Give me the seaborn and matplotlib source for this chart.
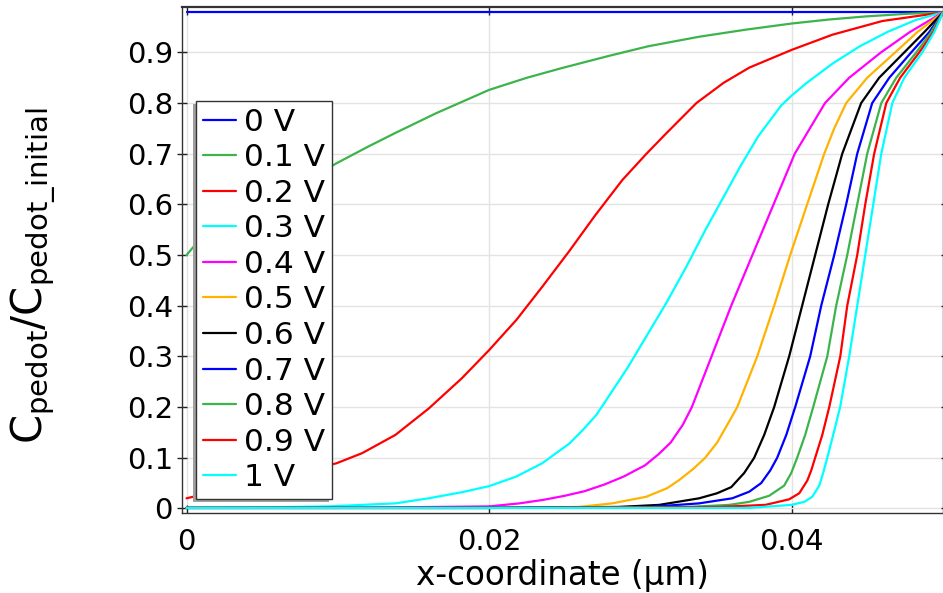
import numpy as np
import pandas as pd
import seaborn as sns
import matplotlib
matplotlib.use("Agg")
import matplotlib.pyplot as plt
from matplotlib.patches import Rectangle
from matplotlib.lines import Line2D
from matplotlib.transforms import IdentityTransform

# ---------------- data ----------------
labels = ["0 V", "0.1 V", "0.2 V", "0.3 V", "0.4 V", "0.5 V",
          "0.6 V", "0.7 V", "0.8 V", "0.9 V", "1 V"]
colors = ["#0000ff", "#3cb44b", "#ff0000", "#00ffff", "#ff00ff", "#ffb300",
          "#000000", "#0000ff", "#3cb44b", "#ff0000", "#00ffff"]

x_0V = [0.0, 0.05]
y_0V = [0.979, 0.979]

x_01V = [0.0, 0.00056, 0.0099, 0.0120, 0.0138, 0.0165, 0.0200, 0.0225, 0.0248, 0.0279, 0.0305, 0.0339, 0.0370, 0.0400, 0.0425, 0.0449, 0.0475, 0.0500]
y_01V = [0.500, 0.520, 0.681, 0.714, 0.741, 0.780, 0.826, 0.850, 0.869, 0.893, 0.912, 0.931, 0.945, 0.957, 0.965, 0.971, 0.976, 0.979]

x_02V = [0.0, 0.0099, 0.0116, 0.0138, 0.0160, 0.0182, 0.0200, 0.0218, 0.0235, 0.0253, 0.0270, 0.0288, 0.0304, 0.0317, 0.0337, 0.0355, 0.0372, 0.0400, 0.0427, 0.0460, 0.0500]
y_02V = [0.020, 0.089, 0.109, 0.145, 0.197, 0.257, 0.3125, 0.372, 0.437, 0.508, 0.578, 0.648, 0.700, 0.740, 0.800, 0.840, 0.870, 0.905, 0.935, 0.962, 0.979]

x_03V = [0.0, 0.0050, 0.0094, 0.0138, 0.0160, 0.0182, 0.0200, 0.0218, 0.0235, 0.0253, 0.0262, 0.0271, 0.0281, 0.0292, 0.0304, 0.0317, 0.0330, 0.0343, 0.0355, 0.0366, 0.0378, 0.0393, 0.0400, 0.0410, 0.0427, 0.0445, 0.0463, 0.0482, 0.0500]
y_03V = [0.001, 0.002, 0.004, 0.010, 0.020, 0.032, 0.044, 0.063, 0.089, 0.128, 0.155, 0.185, 0.230, 0.280, 0.340, 0.405, 0.475, 0.550, 0.615, 0.675, 0.735, 0.795, 0.815, 0.840, 0.878, 0.912, 0.940, 0.964, 0.979]

x_04V = [0.0, 0.0100, 0.0200, 0.0220, 0.0236, 0.0250, 0.0263, 0.0276, 0.0289, 0.0303, 0.0312, 0.0320, 0.0328, 0.0334, 0.0347, 0.0360, 0.0374, 0.0388, 0.0402, 0.0422, 0.0438, 0.0459, 0.0478, 0.0500]
y_04V = [0.001, 0.001, 0.004, 0.010, 0.017, 0.025, 0.034, 0.047, 0.063, 0.085, 0.107, 0.130, 0.165, 0.200, 0.300, 0.400, 0.500, 0.600, 0.700, 0.800, 0.850, 0.900, 0.940, 0.979]

x_05V = [0.0, 0.0200, 0.0235, 0.02595, 0.02813, 0.03038, 0.03177, 0.03256, 0.03349, 0.03428, 0.03507, 0.03574, 0.0364, 0.03772, 0.03884, 0.0399, 0.04102, 0.04215, 0.04281, 0.0436, 0.04499, 0.04684, 0.0483, 0.0500]
y_05V = [0.001, 0.001, 0.002, 0.003, 0.010, 0.023, 0.040, 0.056, 0.078, 0.100, 0.130, 0.165, 0.200, 0.300, 0.400, 0.500, 0.600, 0.700, 0.750, 0.800, 0.850, 0.900, 0.940, 0.979]

x_06V = [0.0, 0.0200, 0.02859, 0.03124, 0.03388, 0.03507, 0.0360, 0.03686, 0.03752, 0.03818, 0.03884, 0.03983, 0.04069, 0.04155, 0.04241, 0.04334, 0.04459, 0.04578, 0.04744, 0.04876, 0.0500]
y_06V = [0.001, 0.001, 0.003, 0.007, 0.020, 0.030, 0.042, 0.070, 0.100, 0.145, 0.200, 0.300, 0.400, 0.500, 0.600, 0.700, 0.800, 0.850, 0.900, 0.940, 0.979]

x_07V = [0.0, 0.0200, 0.03058, 0.03388, 0.03607, 0.03719, 0.03798, 0.03858, 0.03904, 0.03964, 0.04023, 0.04122, 0.04195, 0.04281, 0.0436, 0.04433, 0.04532, 0.04645, 0.0479, 0.04909, 0.0500]
y_07V = [0.001, 0.001, 0.003, 0.010, 0.020, 0.033, 0.050, 0.075, 0.100, 0.145, 0.200, 0.300, 0.400, 0.500, 0.600, 0.700, 0.800, 0.850, 0.900, 0.940, 0.979]

x_08V = [0.0, 0.0200, 0.03322, 0.03587, 0.03719, 0.03851, 0.0395, 0.03997, 0.04036, 0.04089, 0.04142, 0.04235, 0.04294, 0.04367, 0.04433, 0.04499, 0.04592, 0.04691, 0.04823, 0.04922, 0.0500]
y_08V = [0.001, 0.001, 0.003, 0.007, 0.013, 0.025, 0.045, 0.070, 0.100, 0.145, 0.200, 0.300, 0.400, 0.500, 0.600, 0.700, 0.800, 0.850, 0.900, 0.940, 0.979]

x_09V = [0.0, 0.0200, 0.03521, 0.03826, 0.03983, 0.0405, 0.04103, 0.04129, 0.04155, 0.04202, 0.04248, 0.04321, 0.04367, 0.04433, 0.04486, 0.04545, 0.04625, 0.04717, 0.04843, 0.04936, 0.0500]
y_09V = [0.001, 0.001, 0.003, 0.007, 0.018, 0.030, 0.055, 0.075, 0.100, 0.145, 0.200, 0.300, 0.400, 0.500, 0.600, 0.700, 0.800, 0.850, 0.900, 0.940, 0.979]

x_1V = [0.0, 0.0200, 0.03719, 0.03997, 0.04083, 0.04136, 0.04182, 0.04208, 0.04235, 0.04274, 0.0432, 0.0438, 0.04433, 0.04486, 0.04539, 0.04592, 0.04665, 0.04744, 0.04863, 0.04942, 0.0500]
y_1V = [0.001, 0.001, 0.001, 0.007, 0.013, 0.023, 0.045, 0.070, 0.100, 0.145, 0.200, 0.300, 0.400, 0.500, 0.600, 0.700, 0.800, 0.850, 0.900, 0.940, 0.979]

xs = [x_0V, x_01V, x_02V, x_03V, x_04V, x_05V, x_06V, x_07V, x_08V, x_09V, x_1V]
ys = [y_0V, y_01V, y_02V, y_03V, y_04V, y_05V, y_06V, y_07V, y_08V, y_09V, y_1V]

xticks = [0, 0.02, 0.04]
xtick_labels = ["0", "0.02", "0.04"]
yticks = [0, 0.1, 0.2, 0.3, 0.4, 0.5, 0.6, 0.7, 0.8, 0.9]
ytick_labels = ["0", "0.1", "0.2", "0.3", "0.4", "0.5", "0.6", "0.7", "0.8", "0.9"]

# ---------------- plotting ----------------
sns.set_theme(style="whitegrid")
plt.rcParams["font.family"] = ["DejaVu Sans"]

fig = plt.figure(figsize=(9.43, 5.93), dpi=100)
ax = fig.add_axes([182 / 943, 1 - 513 / 593, 761 / 943, (513 - 7.3) / 593])

frames = []
for lab, xv, yv in zip(labels, xs, ys):
    frames.append(pd.DataFrame({"x": xv, "y": yv, "series": lab}))
df = pd.concat(frames, ignore_index=True)

palette = dict(zip(labels, colors))
sns.lineplot(data=df, x="x", y="y", hue="series", hue_order=labels,
             palette=palette, estimator=None, sort=False, linewidth=1.6,
             ax=ax, legend=False)

ax.set_xlim(-0.0003, 0.0500)
ax.set_ylim(-0.009, 0.989)
ax.set_xticks(xticks)
ax.set_xticklabels(xtick_labels)
ax.set_yticks(yticks)
ax.set_yticklabels(ytick_labels)

ax.set_facecolor("white")
ax.grid(True, color="#e3e3e3", linewidth=1.0)
for s in ax.spines.values():
    s.set_color("#333333")
    s.set_linewidth(1.0)
ax.spines["top"].set_linewidth(1.6)

ax.tick_params(axis="x", which="both", direction="in", length=6, width=1,
               color="#222222", labelsize=21, pad=11, top=True, bottom=True,
               labelcolor="black")
ax.tick_params(axis="y", which="both", direction="inout", length=7, width=1,
               color="#222222", labelsize=21, pad=3, left=True, right=False,
               labelcolor="black")
ax.tick_params(axis="y", which="both", right=True, labelright=False)
for t in ax.yaxis.get_major_ticks():
    t.tick2line.set_markersize(3)

ax.set_xlabel("x-coordinate (µm)", fontsize=23.5, color="black")
ax.xaxis.set_label_coords(0.5, -0.09)
ax.xaxis.label.set_va("top")
ax.set_ylabel(r"C$_\mathregular{pedot}$/C$_\mathregular{pedot\_initial}$",
              fontsize=30, color="black")
ax.yaxis.set_label_coords(-0.163, 0.469)

handles = [Line2D([], [], color=c, linewidth=1.6) for c in colors]
leg = ax.legend(handles, labels, loc="upper left",
                bbox_to_anchor=(14 / 761, (513 - 100.7) / 505.7),
                borderaxespad=0, fontsize=22.5, frameon=True, fancybox=False,
                shadow=False, framealpha=1, edgecolor="#333333",
                handlelength=1.05, handletextpad=0.28, labelspacing=0.21,
                borderpad=0.22, labelcolor="black")
leg.get_frame().set_linewidth(1.0)
leg.set_zorder(6)

fig.canvas.draw()
bb = leg.get_frame().get_window_extent(fig.canvas.get_renderer())
shadow = Rectangle((bb.x0 - 3, bb.y0 - 3), bb.width, bb.height,
                   transform=IdentityTransform(), facecolor="#a0a0a0",
                   edgecolor="none", zorder=5.5, clip_on=False)
ax.add_artist(shadow)

fig.savefig("out.png", dpi=100)
